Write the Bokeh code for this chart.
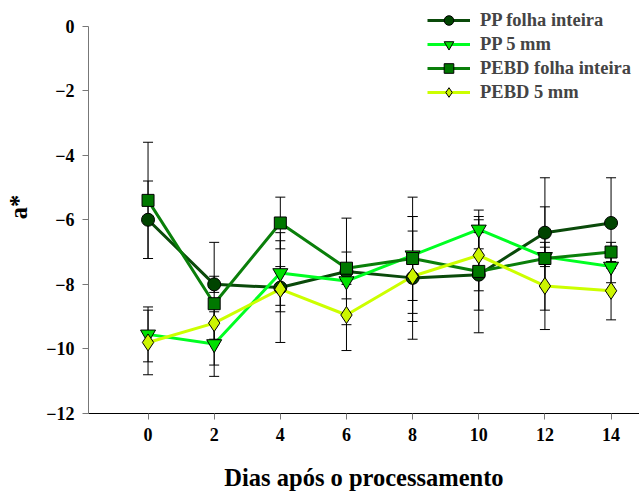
from bokeh.plotting import figure
from bokeh.models import Range1d, Legend, LegendItem, FixedTicker
from bokeh.embed import file_html
from bokeh.resources import INLINE

days = [0, 2, 4, 6, 8, 10, 12, 14]

pp_folha = [-6.0, -8.0, -8.1, -7.6, -7.8, -7.7, -6.4, -6.1]
pp_folha_err = [1.2, 0.25, 1.7, 1.65, 1.9, 1.8, 1.7, 1.4]

pp_5 = [-9.55, -9.85, -7.65, -7.9, -7.1, -6.3, -7.15, -7.45]
pp_5_err = [0.85, 1.0, 1.0, 0.55, 1.8, 0.6, 0.3, 0.5]

pebd_folha = [-5.4, -8.6, -6.1, -7.5, -7.2, -7.6, -7.2, -7.0]
pebd_folha_err = [1.8, 1.9, 0.8, 0.5, 1.3, 1.2, 1.6, 0.3]

pebd_5 = [-9.8, -9.2, -8.15, -8.95, -7.75, -7.1, -8.05, -8.2]
pebd_5_err = [1.0, 0.5, 0.7, 1.1, 1.4, 1.1, 1.35, 0.9]

labels = ["PP folha inteira", "PP 5 mm", "PEBD folha inteira", "PEBD 5 mm"]
x_ticks = [0, 2, 4, 6, 8, 10, 12, 14]
y_ticks = [0, -2, -4, -6, -8, -10, -12]

FONT = "Liberation Serif"

# frame spans the full top of the canvas; axis line limited to [-12, 0]
p = figure(width=639, height=493, output_backend="svg", toolbar_location=None,
           x_range=Range1d(-1.8, 14.86), y_range=Range1d(-12, 0.79),
           min_border_left=88, min_border_top=0, min_border_right=0, min_border_bottom=78)
p.outline_line_color = None
p.xgrid.visible = False
p.ygrid.visible = False
p.background_fill_color = "white"

series = [
    (pp_folha, pp_folha_err, "#0a4a0a", "#004400", "circle", 13),
    (pp_5, pp_5_err, "#00ff22", "#00e000", "inverted_triangle", 15),
    (pebd_folha, pebd_folha_err, "#0a7f0a", "#007800", "square", 12),
    (pebd_5, pebd_5_err, "#ccff00", "#ccf500", "diamond", 17),
]

items = []
line_rs = []
for vals, errs, lc, fc, mk, sz in series:
    lr = p.line(days, vals, line_color=lc, line_width=3)
    line_rs.append(lr)

for vals, errs, lc, fc, mk, sz in series:
    lo = [v - e for v, e in zip(vals, errs)]
    hi = [v + e for v, e in zip(vals, errs)]
    p.segment(days, lo, days, hi, line_color="black", line_width=1)
    p.scatter(days, lo, marker="dash", size=10, line_color="black", line_width=1)
    p.scatter(days, hi, marker="dash", size=10, line_color="black", line_width=1)

for i, (vals, errs, lc, fc, mk, sz) in enumerate(series):
    mr = p.scatter(days, vals, marker=mk, size=sz, fill_color=fc, line_color="black", line_width=1)
    items.append(LegendItem(label=labels[i], renderers=[line_rs[i], mr]))

legend = Legend(items=items, location=(339, 309), padding=0, margin=0, spacing=0,
                glyph_width=43, glyph_height=24, label_standoff=10,
                label_text_font=FONT, label_text_font_style="bold", label_text_font_size="18.5px",
                border_line_color=None, background_fill_alpha=0)
p.add_layout(legend)

p.xaxis.ticker = FixedTicker(ticks=x_ticks)
p.yaxis.ticker = FixedTicker(ticks=y_ticks)
p.yaxis.bounds = (-12, 0)
p.xaxis.minor_tick_line_color = None
p.yaxis.minor_tick_line_color = None
p.xaxis.major_tick_in = 0
p.xaxis.major_tick_out = 6
p.yaxis.major_tick_in = 0
p.yaxis.major_tick_out = 6
p.xaxis.axis_line_color = "black"
p.xaxis.major_tick_line_color = "#777777"
p.yaxis.axis_line_color = "#777777"
p.yaxis.major_tick_line_color = "#777777"

for ax in (p.xaxis, p.yaxis):
    ax.major_label_text_font = FONT
    ax.major_label_text_font_style = "bold"
    ax.major_label_text_font_size = "18px"
    ax.major_label_text_color = "black"
    ax.axis_label_text_font = FONT
    ax.axis_label_text_font_style = "bold"
    ax.axis_label_text_font_size = "24.5px"
    ax.axis_label_text_color = "black"

p.xaxis.axis_label = "Dias após o processamento"
p.yaxis.axis_label = "a*"
p.xaxis.major_label_standoff = 8
p.yaxis.major_label_standoff = 8
p.xaxis.axis_label_standoff = 20
p.yaxis.axis_label_standoff = 11

open("out.html", "w").write(file_html(p, INLINE))
